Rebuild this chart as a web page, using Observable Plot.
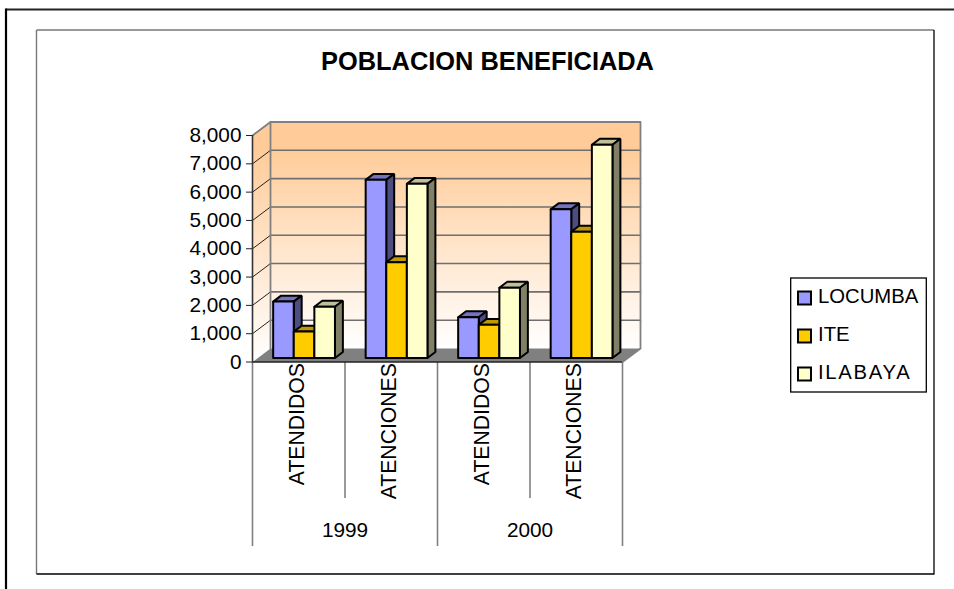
<!DOCTYPE html>
<html><head><meta charset="utf-8">
<script src="https://cdn.jsdelivr.net/npm/d3@7"></script>
<script src="https://cdn.jsdelivr.net/npm/@observablehq/plot@0.6"></script>
<style>html,body{margin:0;padding:0;background:#fff;overflow:hidden}svg{display:block}</style>
</head><body><div id="chart"></div>
<script>
const title = "POBLACION BENEFICIADA";
const years = ["1999", "2000"];
const categories = ["ATENDIDOS", "ATENCIONES", "ATENDIDOS", "ATENCIONES"];
const series = ["LOCUMBA", "ITE", "ILABAYA"];
const locumba = [1990, 6290, 1440, 5250];
const ite = [930, 3380, 1170, 4460];
const ilabaya = [1810, 6150, 2480, 7530];
const yTicks = [0, 1000, 2000, 3000, 4000, 5000, 6000, 7000, 8000];
const faceColors = {
  LOCUMBA: ["#9999ff", "#7373bf", "#4d4d80"],
  ITE: ["#ffcc00", "#bf9900", "#806600"],
  ILABAYA: ["#ffffcc", "#bfbf99", "#808066"]
};
const legendSpacing = {LOCUMBA: 0, ITE: 0, ILABAYA: 1.7};
const values = [locumba, ite, ilabaya];

// chart-space layout
const W = 954, H = 589;
const frontLeft = 252, frontRight = 622, y8000 = 135, y0 = 361.5;
const unitPx = (frontRight - frontLeft) / categories.length;
const valPx = (y0 - y8000) / 8000;
// depth is expressed in category / value units: d = 1 is the full floor depth
const depthX = 18 / unitPx, depthY = 13.5 / valPx;
const at = (x, v, d = 0) => ({x: x + d * depthX, y: v + d * depthY});
const barW = 20.6 / unitPx, barStart = 0.165, d0 = 0.3, d1 = 0.74;

// polygons: walls are drawn apart, bars painted from left to right
const polys = [];
let pid = 0;
function poly(fill, pts) { const id = pid++; for (const p of [...pts, pts[0]]) polys.push({...p, id, fill}); }
categories.forEach((c, i) => {
  series.forEach((s, j) => {
    const v = values[j][i];
    const x0 = i + barStart + j * barW, x1 = x0 + barW;
    const [front, top, side] = faceColors[s];
    poly(top, [at(x0, v, d0), at(x1, v, d0), at(x1, v, d1), at(x0, v, d1)]);
    poly(side, [at(x1, 0, d0), at(x1, v, d0), at(x1, v, d1), at(x1, 0, d1)]);
    poly(front, [at(x0, 0, d0), at(x1, 0, d0), at(x1, v, d0), at(x0, v, d0)]);
  });
});

const n = categories.length;
const wallBack = [at(0, 0, 1), at(n, 0, 1), at(n, 8000, 1), at(0, 8000, 1), at(0, 0, 1)];
const wallLeft = [at(0, 0, 0), at(0, 0, 1), at(0, 8000, 1), at(0, 8000, 0), at(0, 0, 0)];
const floor = [at(0, 0, 0), at(n, 0, 0), at(n, 0, 1), at(0, 0, 1), at(0, 0, 0)];
const wallEdge = [at(0, 8000, 0), at(0, 8000, 1), at(n, 8000, 1), at(n, 0, 1), at(n, 0, 0)];
const wallInner = [at(0, 8000, 1), at(0, 0, 1)];

const bottomShort = -4823, bottomLong = -6519; // value-axis position of the axis table rows
const labelTop = -40, yearY = -5940;

function decoration() {
  const svg = d3.create("svg:g");
  const defs = svg.append("defs");
  const g = defs.append("linearGradient").attr("id", "wall").attr("x1", 0).attr("y1", 0).attr("x2", 0).attr("y2", 1);
  g.append("stop").attr("offset", "0").attr("stop-color", "#ffcc99");
  g.append("stop").attr("offset", "0.12").attr("stop-color", "#ffcc99");
  g.append("stop").attr("offset", "1").attr("stop-color", "#ffffff");
  const line = (x1, y1, x2, y2, c, w) => svg.append("line").attr("x1", x1).attr("y1", y1).attr("x2", x2).attr("y2", y2).attr("stroke", c).attr("stroke-width", w);
  line(6, 9.5, 954, 9.5, "#222", 2.2);
  line(6, 8.5, 6, 589, "#000", 2.2);
  line(36.5, 30, 934, 30, "#777", 1.4);
  line(36.5, 30, 36.5, 574, "#777", 1.4);
  line(934, 30, 934, 574.6, "#000", 1.3);
  line(36.5, 574, 934, 574, "#000", 1.3);
  svg.append("text").attr("x", 487.5).attr("y", 70).attr("text-anchor", "middle")
    .attr("font-family", "Liberation Sans").attr("font-weight", "bold").attr("font-size", 25.4).text(title);
  const lg = svg.append("g");
  lg.append("rect").attr("x", 790.7).attr("y", 278).attr("width", 135.6).attr("height", 114).attr("fill", "#fff").attr("stroke", "#000").attr("stroke-width", 1.3);
  series.forEach((s, i) => {
    const cy = 298 + i * 38;
    lg.append("rect").attr("x", 798).attr("y", cy - 6.5).attr("width", 13).attr("height", 13)
      .attr("fill", faceColors[s][0]).attr("stroke", "#000").attr("stroke-width", 2);
    lg.append("text").attr("x", 818).attr("y", cy + 5).attr("text-anchor", "start").attr("font-family", "Liberation Sans")
      .attr("font-size", 20.3).attr("letter-spacing", legendSpacing[s]).text(s);
  });
  return svg.node();
}

const chart = Plot.plot({
  width: W, height: H,
  marginLeft: frontLeft, marginRight: W - frontRight,
  marginTop: y8000, marginBottom: H - y0,
  style: {background: "#fff", fontFamily: "Liberation Sans", color: "#000", overflow: "visible"},
  x: {type: "linear", domain: [0, n], axis: null},
  y: {domain: [0, 8000], axis: null},
  color: {type: "identity"},
  marks: [
    decoration,
    Plot.line(wallBack, {x: "x", y: "y", fill: "url(#wall)", stroke: "none"}),
    Plot.line(wallLeft, {x: "x", y: "y", fill: "url(#wall)", stroke: "none"}),
    Plot.line(yTicks.slice(1, -1).flatMap(t => [{...at(0, t, 1), t}, {...at(n, t, 1), t}]),
      {x: "x", y: "y", z: "t", stroke: "#6f6f6f", strokeWidth: 1.6, curve: "linear"}),
    Plot.line(yTicks.slice(1).flatMap(t => [{...at(0, t, 0), t}, {...at(0, t, 1), t}]),
      {x: "x", y: "y", z: "t", stroke: "#222", strokeWidth: 1, curve: "linear"}),
    Plot.line(floor, {x: "x", y: "y", fill: "#808080", stroke: "none"}),
    Plot.line(wallEdge, {x: "x", y: "y", stroke: "#808080", strokeWidth: 1.8}),
    Plot.line(wallInner, {x: "x", y: "y", stroke: "#808080", strokeWidth: 1.8}),
    Plot.ruleX([0, 2, 4], {y1: 0, y2: bottomLong, stroke: "#808080", strokeWidth: 1.6}),
    Plot.ruleX([1, 3], {y1: 0, y2: bottomShort, stroke: "#808080", strokeWidth: 1.6}),
    Plot.ruleX([0], {y1: 0, y2: 8000, stroke: "#333", strokeWidth: 1.6}),
    Plot.ruleY([0], {x1: 0, x2: n, stroke: "#222", strokeWidth: 1.6}),
    Plot.line(polys, {x: "x", y: "y", z: "id", fill: "fill", stroke: "#000", strokeWidth: 2, strokeLinejoin: "miter"}),
    Plot.axisY(yTicks, {anchor: "left", tickSize: 6, tickPadding: 5, tickFormat: d3.format(","), fontSize: 20.8, label: null, stroke: "#222", strokeWidth: 1, color: "#000"}),
    Plot.text(categories, {x: (d, i) => i + 0.5, y: labelTop, text: d => d, rotate: -90, textAnchor: "end", fontSize: 21.2, dx: -2, fill: "#000", lineAnchor: "middle"}),
    Plot.text(years, {x: (d, i) => 1 + 2 * i, y: yearY, text: d => d, fontSize: 20.8, fill: "#000"})
  ]
});
document.getElementById("chart").append(chart);
</script></body></html>
